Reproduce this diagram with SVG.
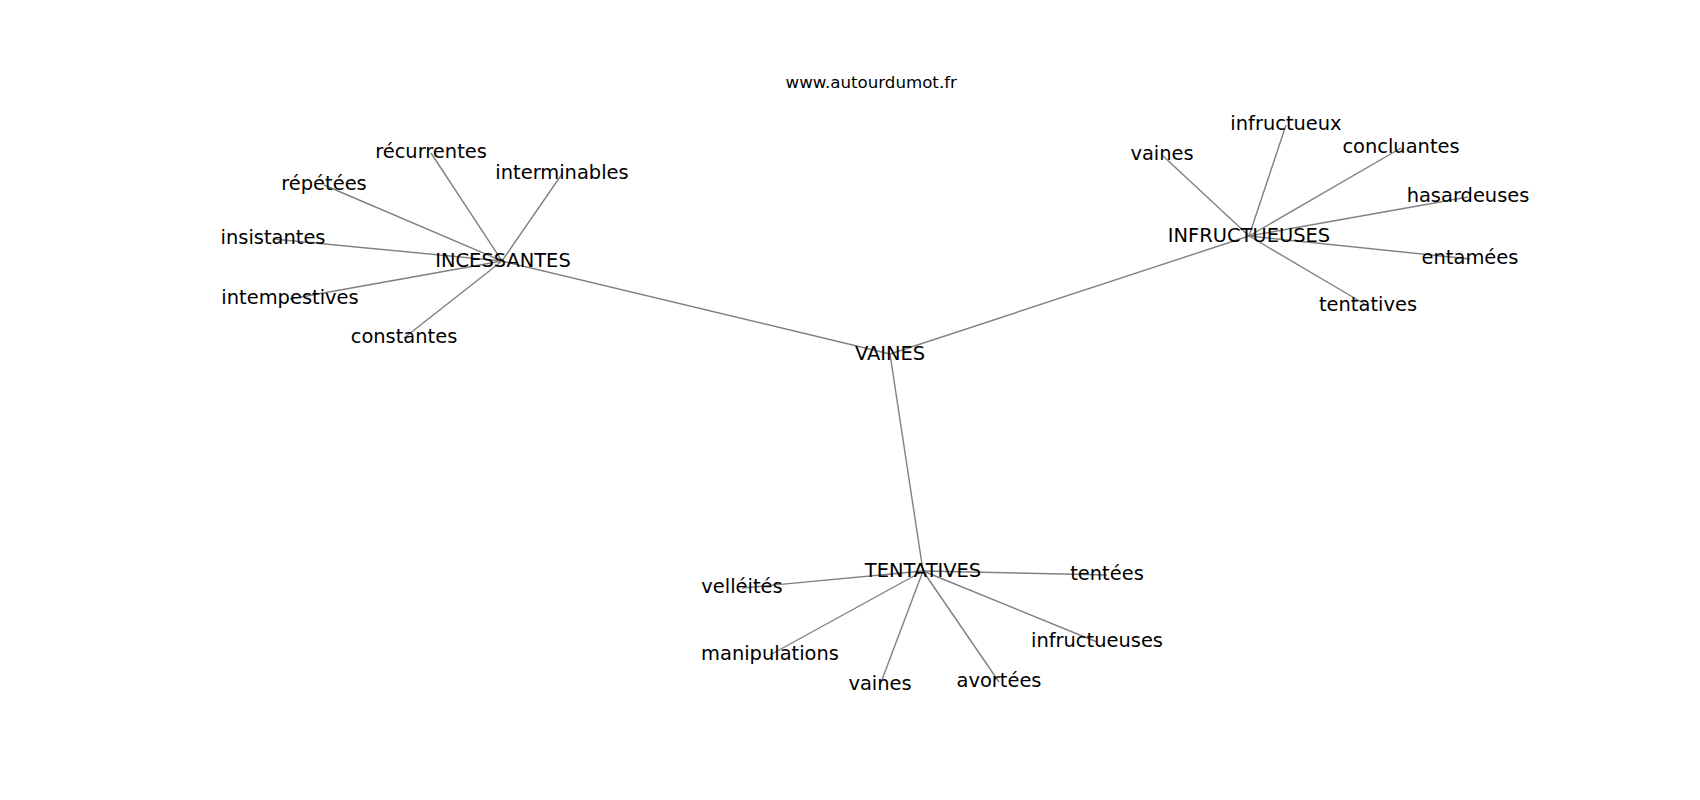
<svg xmlns="http://www.w3.org/2000/svg" width="1700" height="800" viewBox="0 0 1700 800">
<style>
.e{stroke:#808080;stroke-width:1.4;fill:none}
.n{font-family:"DejaVu Sans",sans-serif;font-size:19.44px;fill:#000;text-anchor:middle}
.t{font-family:"DejaVu Sans",sans-serif;font-size:16.67px;fill:#000;text-anchor:middle}
</style>
<rect width="1700" height="800" fill="#fff"/>
<text class="t" x="871.25" y="88">www.autourdumot.fr</text>
<g id="connectors">
<line class="e" x1="890" y1="354" x2="502" y2="261"/>
<line class="e" x1="890" y1="354" x2="1249" y2="236"/>
<line class="e" x1="890" y1="354" x2="923" y2="571"/>
<line class="e" x1="502" y1="261" x2="431" y2="153"/>
<line class="e" x1="502" y1="261" x2="562" y2="174"/>
<line class="e" x1="502" y1="261" x2="324" y2="185"/>
<line class="e" x1="502" y1="261" x2="273" y2="239"/>
<line class="e" x1="502" y1="261" x2="290" y2="299"/>
<line class="e" x1="502" y1="261" x2="404" y2="338"/>
<line class="e" x1="1249" y1="236" x2="1286" y2="125"/>
<line class="e" x1="1249" y1="236" x2="1162" y2="155"/>
<line class="e" x1="1249" y1="236" x2="1401" y2="148"/>
<line class="e" x1="1249" y1="236" x2="1468" y2="197"/>
<line class="e" x1="1249" y1="236" x2="1470" y2="259"/>
<line class="e" x1="1249" y1="236" x2="1368" y2="306"/>
<line class="e" x1="923" y1="571" x2="742" y2="588"/>
<line class="e" x1="923" y1="571" x2="1107" y2="575"/>
<line class="e" x1="923" y1="571" x2="770" y2="655"/>
<line class="e" x1="923" y1="571" x2="880" y2="685"/>
<line class="e" x1="923" y1="571" x2="999" y2="682"/>
<line class="e" x1="923" y1="571" x2="1097" y2="642"/>
</g>
<g id="VAINES"><text class="n" x="890" y="360">VAINES</text></g>
<g id="INCESSANTES"><text class="n" x="503" y="266.7">INCESSANTES</text></g>
<g id="INFRUCTUEUSES"><text class="n" x="1249" y="241.7">INFRUCTUEUSES</text></g>
<g id="TENTATIVES"><text class="n" x="923" y="576.7">TENTATIVES</text></g>
<g id="recurrentes"><text class="n" x="431" y="158.3">récurrentes</text></g>
<g id="interminables"><text class="n" x="562" y="178.7">interminables</text></g>
<g id="repetees"><text class="n" x="324" y="190">répétées</text></g>
<g id="insistantes"><text class="n" x="273" y="244">insistantes</text></g>
<g id="intempestives"><text class="n" x="290" y="304.3">intempestives</text></g>
<g id="constantes"><text class="n" x="404" y="342.7">constantes</text></g>
<g id="infructueux"><text class="n" x="1286" y="130">infructueux</text></g>
<g id="vaines1"><text class="n" x="1162" y="160">vaines</text></g>
<g id="concluantes"><text class="n" x="1401" y="153.3">concluantes</text></g>
<g id="hasardeuses"><text class="n" x="1468" y="201.7">hasardeuses</text></g>
<g id="entamees"><text class="n" x="1470" y="264">entamées</text></g>
<g id="tentatives"><text class="n" x="1368" y="310.7">tentatives</text></g>
<g id="velleites"><text class="n" x="742" y="592.7">velléités</text></g>
<g id="tentees"><text class="n" x="1107" y="580">tentées</text></g>
<g id="manipulations"><text class="n" x="770" y="660">manipulations</text></g>
<g id="vaines2"><text class="n" x="880" y="690">vaines</text></g>
<g id="avortees"><text class="n" x="999" y="686.7">avortées</text></g>
<g id="infructueuses"><text class="n" x="1097" y="647.3">infructueuses</text></g>
</svg>
